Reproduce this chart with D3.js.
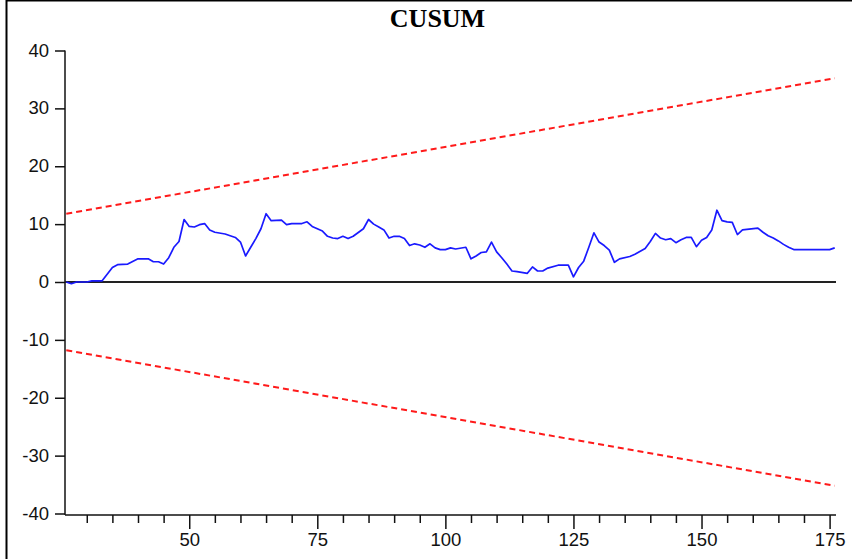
<!DOCTYPE html>
<html>
<head>
<meta charset="utf-8">
<script src="https://cdn.jsdelivr.net/npm/d3@7"></script>
<style>
  body { margin: 0; background: white; }
</style>
</head>
<body>
<div id="container"></div>
<script>
"use strict";

// SECTION: data
const periods = [26, 27, 28, 30, 31, 33, 35, 36, 38, 40, 42, 43, 44, 45, 46, 47, 48, 49,
  50, 51, 52, 53, 54, 55, 57, 58, 59, 60, 61, 62, 63, 64, 65, 66, 68, 69, 70, 72, 73, 74,
  75, 76, 77, 78, 79, 80, 81, 82, 84, 85, 86, 87, 88, 89, 90, 91, 92, 93, 94, 95, 96, 97,
  98, 99, 100, 101, 102, 104, 105, 106, 107, 108, 109, 110, 111, 112, 113, 114, 116, 117,
  118, 119, 120, 122, 124, 125, 126, 127, 128, 129, 130, 131, 132, 133, 134, 136, 137, 139,
  140, 141, 142, 143, 144, 145, 146, 147, 148, 149, 150, 151, 152, 153, 154, 155, 156, 157,
  158, 161, 162, 163, 164, 165, 166, 167, 168, 175, 176];
const cusum = [0, -0.3, 0, 0, 0.2, 0.2, 2.5, 3.0, 3.1, 4.0, 4.0, 3.5, 3.5, 3.1, 4.2, 6.0, 7.0, 10.8,
  9.6, 9.5, 9.9, 10.1, 9.0, 8.6, 8.3, 8.0, 7.7, 6.9, 4.5, 6.0, 7.5, 9.2, 11.8, 10.6, 10.7, 9.9, 10.1, 10.1, 10.4, 9.6,
  9.2, 8.8, 7.9, 7.6, 7.5, 7.9, 7.5, 7.9, 9.2, 10.8, 10.0, 9.5, 9.0, 7.6, 7.9, 7.9, 7.5, 6.3, 6.6, 6.4, 6.0, 6.6,
  5.9, 5.6, 5.6, 5.9, 5.7, 6.0, 4.0, 4.5, 5.1, 5.2, 6.9, 5.2, 4.2, 3.1, 1.9, 1.8, 1.5, 2.6,
  1.9, 1.9, 2.4, 2.9, 2.9, 0.9, 2.5, 3.6, 6.0, 8.5, 6.9, 6.3, 5.5, 3.4, 4.0, 4.4, 4.8, 5.8,
  7.0, 8.4, 7.6, 7.3, 7.5, 6.8, 7.3, 7.7, 7.7, 6.1, 7.2, 7.7, 9.0, 12.4, 10.6, 10.4, 10.3, 8.2,
  9.0, 9.3, 8.6, 8.0, 7.6, 7.1, 6.5, 6.0, 5.6, 5.6, 5.9];

// 5% significance bands (straight lines, end points)
const bandPeriods = [26, 176];
const upper5 = [11.8, 35.2];
const lower5 = [-11.8, -35.2];

const yTicks = [-40, -30, -20, -10, 0, 10, 20, 30, 40];
const xMajorTicks = [50, 75, 100, 125, 150, 175];
const xMinorTicks = [30, 35, 40, 45, 55, 60, 65, 70, 80, 85, 90, 95, 105, 110, 115, 120,
  130, 135, 140, 145, 155, 160, 165, 170];

const width = 852;
const height = 559;

let svg = d3.select("#container")
    .append("svg")
    .attr("width", width)
    .attr("height", height)
    .style("display", "block");

// frame (only the left and top edges fall inside the picture)
svg.append("rect")
    .attr("x", 6.5)
    .attr("y", 0.5)
    .attr("width", 900)
    .attr("height", 700)
    .attr("fill", "none")
    .attr("stroke", "black")
    .attr("stroke-width", 2);

// Build X scale
var x = d3.scaleLinear()
    .domain([25.75, 176.25])
    .range([65, 836]);

// Build Y scale
var y = d3.scaleLinear()
    .domain([-40, 40])
    .range([513.5, 50.5]);

// y axis (plain hyphen for negatives, as in the original)
let yAxis = svg.append("g")
    .attr("transform", "translate(65,0)")
    .call(d3.axisLeft(y).tickValues(yTicks).tickSize(10).tickPadding(6).tickSizeOuter(0)
      .tickFormat(d => String(d)));
yAxis.select(".domain").remove();
yAxis.selectAll("line").attr("stroke", "#111").attr("stroke-width", 1.5);
yAxis.selectAll("text")
    .style("font-family", "'Liberation Sans', Arial, sans-serif")
    .style("font-size", "18.5px")
    .attr("fill", "#111")
    .attr("dy", "0.3em");

// x axis, minor ticks then major ticks with labels
let xMinor = svg.append("g")
    .attr("transform", "translate(0,515)")
    .call(d3.axisBottom(x).tickValues(xMinorTicks).tickSize(8).tickFormat("").tickSizeOuter(0));
xMinor.select(".domain").remove();
xMinor.selectAll("line").attr("stroke", "#111").attr("stroke-width", 1.5);

let xMajor = svg.append("g")
    .attr("transform", "translate(0,515)")
    .call(d3.axisBottom(x).tickValues(xMajorTicks).tickSize(14).tickPadding(4).tickSizeOuter(0));
xMajor.select(".domain").remove();
xMajor.selectAll("line").attr("stroke", "#111").attr("stroke-width", 1.5);
xMajor.selectAll("text")
    .style("font-family", "'Liberation Sans', Arial, sans-serif")
    .style("font-size", "18.5px")
    .attr("fill", "#111");

// axis lines
svg.append("line")
    .attr("x1", 65).attr("x2", 65)
    .attr("y1", y(40)).attr("y2", 515)
    .attr("stroke", "#111").attr("stroke-width", 1.5);
svg.append("line")
    .attr("x1", 65).attr("x2", 836)
    .attr("y1", 515).attr("y2", 515)
    .attr("stroke", "#111").attr("stroke-width", 1.5);

// zero line
svg.append("line")
    .attr("x1", 65).attr("x2", 836)
    .attr("y1", y(0)).attr("y2", y(0))
    .attr("stroke", "#222").attr("stroke-width", 1.8);

// significance bands
var line = d3.line()
    .x(d => x(d[0]))
    .y(d => y(d[1]));

[upper5, lower5].forEach(band => {
  svg.append("path")
      .datum(bandPeriods.map((p, i) => [p, band[i]]))
      .attr("d", line)
      .attr("fill", "none")
      .attr("stroke", "#ff1a1a")
      .attr("stroke-width", 2)
      .attr("stroke-dasharray", "6,4");
});

// CUSUM line
svg.append("path")
    .datum(periods.map((p, i) => [p, cusum[i]]))
    .attr("d", line)
    .attr("fill", "none")
    .attr("stroke", "#1a1aff")
    .attr("stroke-width", 1.7)
    .attr("stroke-linejoin", "round");

// Add title to graph
svg.append("text")
    .attr("x", 437.5)
    .attr("y", 27)
    .attr("text-anchor", "middle")
    .style("font-family", "'Liberation Serif', 'Times New Roman', serif")
    .style("font-weight", "bold")
    .style("font-size", "26px")
    .text("CUSUM");
</script>
</body>
</html>
